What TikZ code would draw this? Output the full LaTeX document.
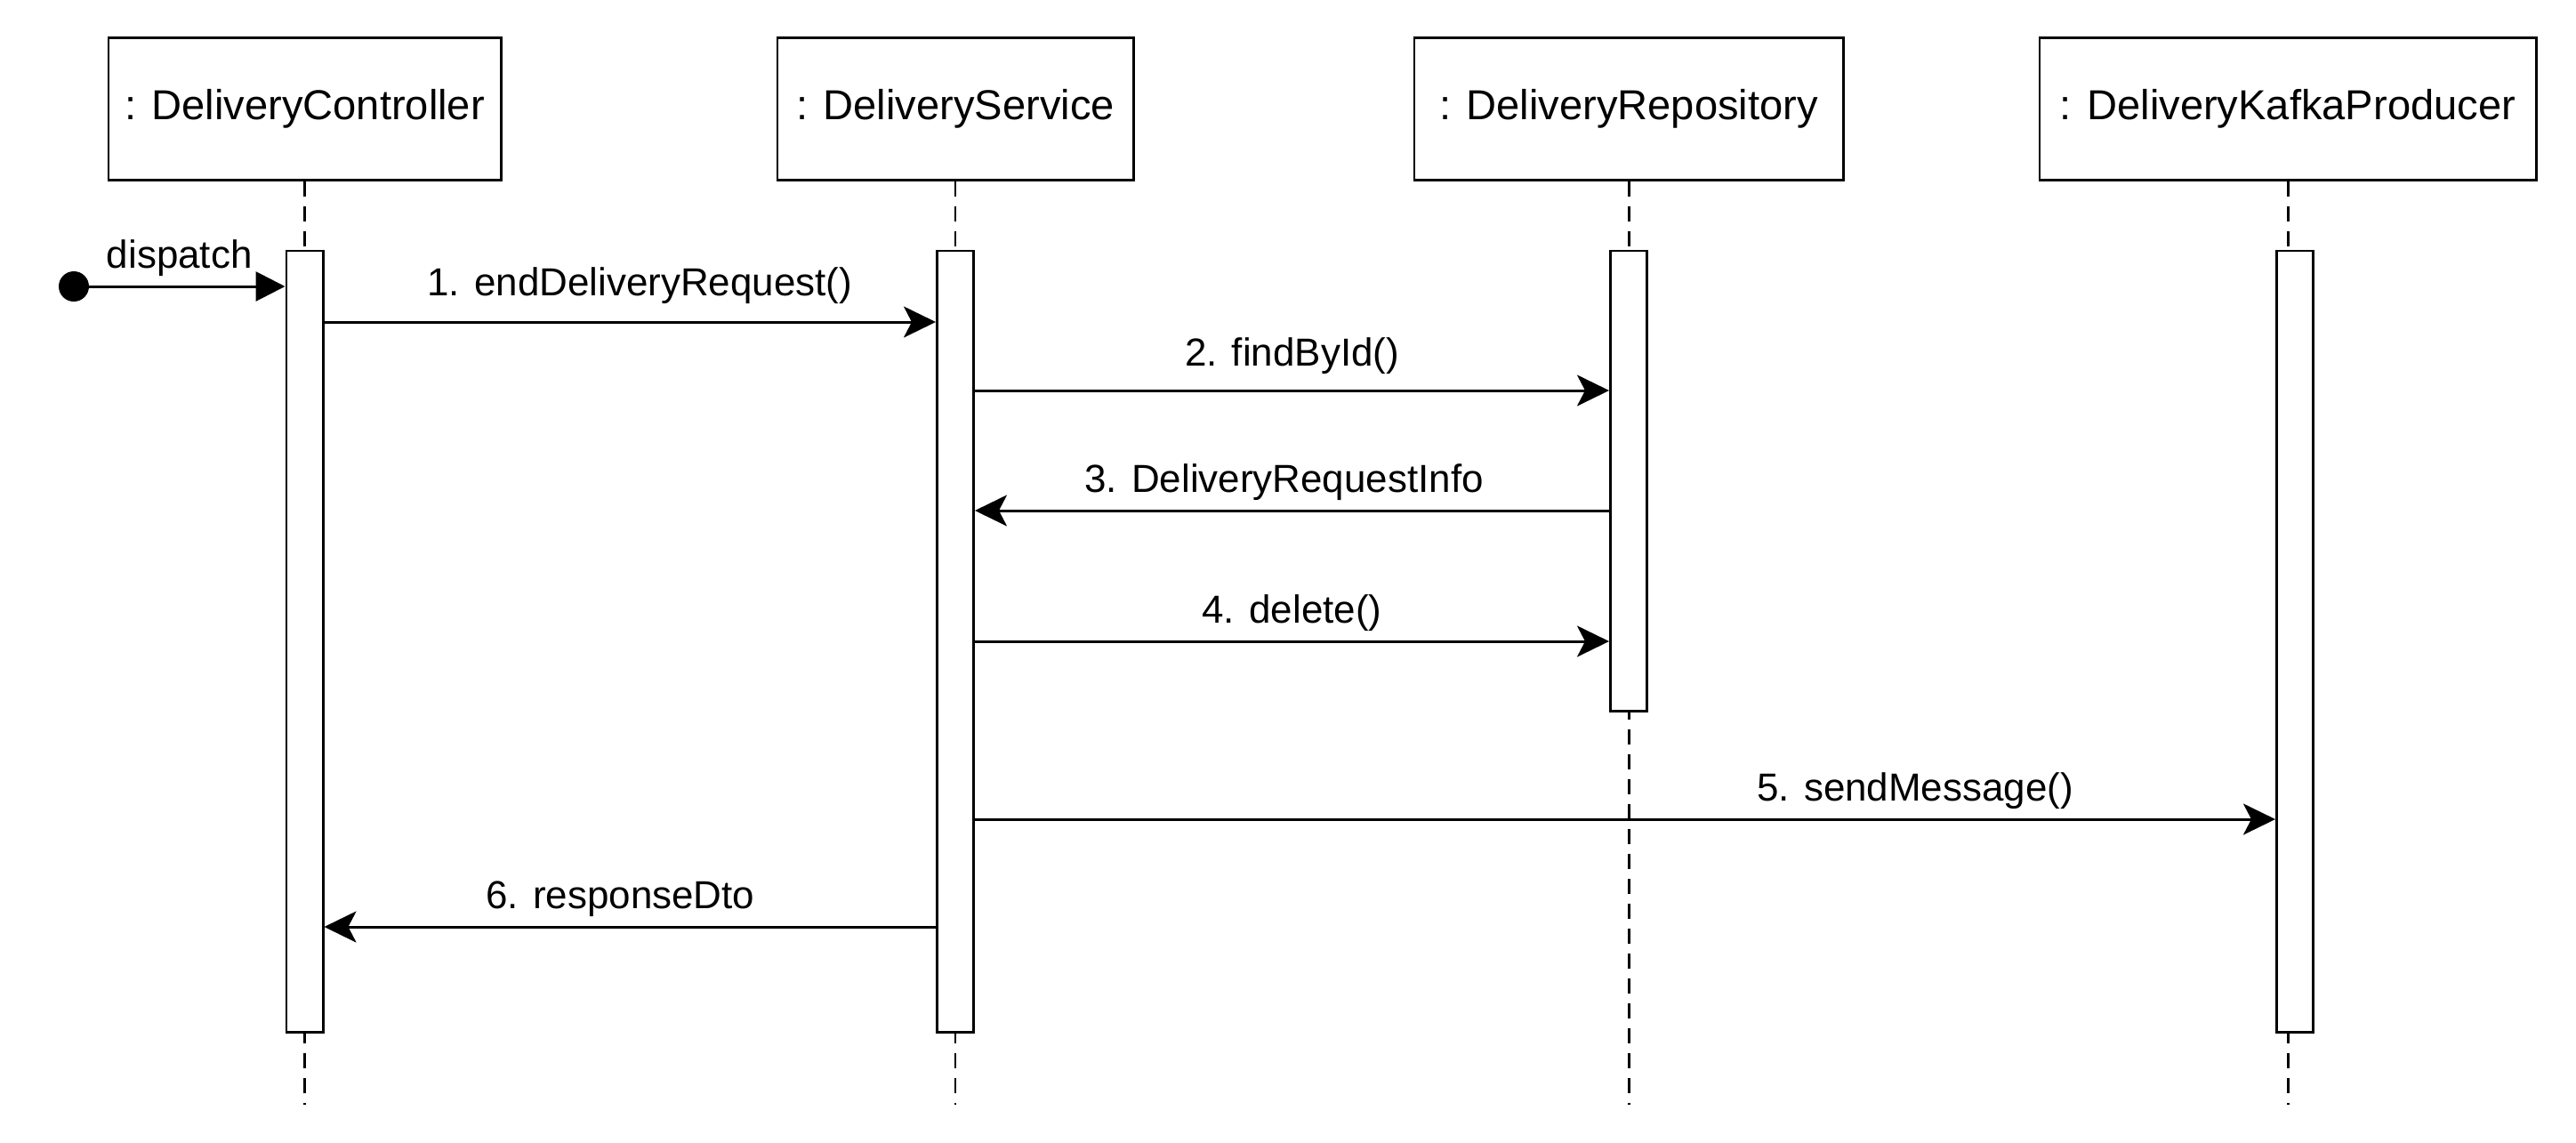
\documentclass[tikz,border=0pt]{standalone}
\usepackage{fontspec}
\setmainfont{Liberation Sans}
\usetikzlibrary{arrows.meta,positioning}

\begin{document}
\begin{tikzpicture}[line width=0.85pt,
    obj/.style={draw,rectangle,minimum height=1.6cm,inner sep=0pt,font=\fontsize{13.4}{16}\selectfont},
    act/.style={draw,fill=white,rectangle,minimum width=0.41cm,inner sep=0pt},
    lifeline/.style={dash pattern=on 0.17cm off 0.11cm},
    msg/.style={-{Stealth[length=3.6mm,width=3.5mm,inset=0.9mm]}},
    call/.style={-{Triangle[length=3.3mm,width=3.3mm]}},
    lbl/.style={anchor=base,yshift=2.1mm,inner sep=0pt,font=\fontsize{12.5}{15}\selectfont},
    dot/.style={circle,fill,minimum size=0.34cm,inner sep=0pt}]
  \useasboundingbox (0,0) rectangle (28.96,-12.84);

  \node[obj,minimum width=4.41cm]       (ctrl) at (3.425,-1.22) {: DeliveryController};
  \node[obj,minimum width=4.0cm]        (svc)   [right=3.08cm of ctrl] {: DeliveryService};
  \node[obj,minimum width=4.82cm]       (repo)  [right=3.13cm of svc]  {: DeliveryRepository};
  \node[obj,minimum width=5.58cm]       (kafka) [right=2.18cm of repo] {: DeliveryKafkaProducer};

  % lifelines
  \foreach \o in {ctrl,svc,repo,kafka}
    \draw[lifeline] (\o.south) -- (\o.south |- 0,-12.42);

  \node[act,minimum height=8.78cm] (actCtrl)  [below=0.77cm of ctrl]  {};
  \node[act,minimum height=8.78cm] (actSvc)   [below=0.77cm of svc]   {};
  \node[act,minimum height=5.17cm] (actRepo)  [below=0.77cm of repo]  {};
  \node[act,minimum height=8.78cm,xshift=0.8mm] (actKafka) [below=0.77cm of kafka] {};

  \node[dot] (start) at (0.83,-3.22) {};
  \draw[call] (start.center) -- (actCtrl.west |- start) node[lbl,midway] {dispatch};

  \draw[msg] (actCtrl.east |- 0,-3.62) -- (actSvc.west |- 0,-3.62) node[lbl,midway,xshift=1.1mm,yshift=0.9mm] {1. endDeliveryRequest()};
  \draw[msg] (actSvc.east |- 0,-4.39) -- (actRepo.west |- 0,-4.39) node[lbl,midway,yshift=0.7mm] {2. findById()};
  \draw[msg] (actRepo.west |- 0,-5.74) -- (actSvc.east |- 0,-5.74) node[lbl,midway,xshift=-0.9mm] {3. DeliveryRequestInfo};
  \draw[msg] (actSvc.east |- 0,-7.21) -- (actRepo.west |- 0,-7.21) node[lbl,midway] {4. delete()};
  \draw[msg] (actSvc.east |- 0,-9.21) -- (actKafka.west |- 0,-9.21) node[lbl,pos=0.723] {5. sendMessage()};
  \draw[msg] (actSvc.west |- 0,-10.42) -- (actCtrl.east |- 0,-10.42) node[lbl,midway,xshift=-1.1mm] {6. responseDto};
\end{tikzpicture}
\end{document}
